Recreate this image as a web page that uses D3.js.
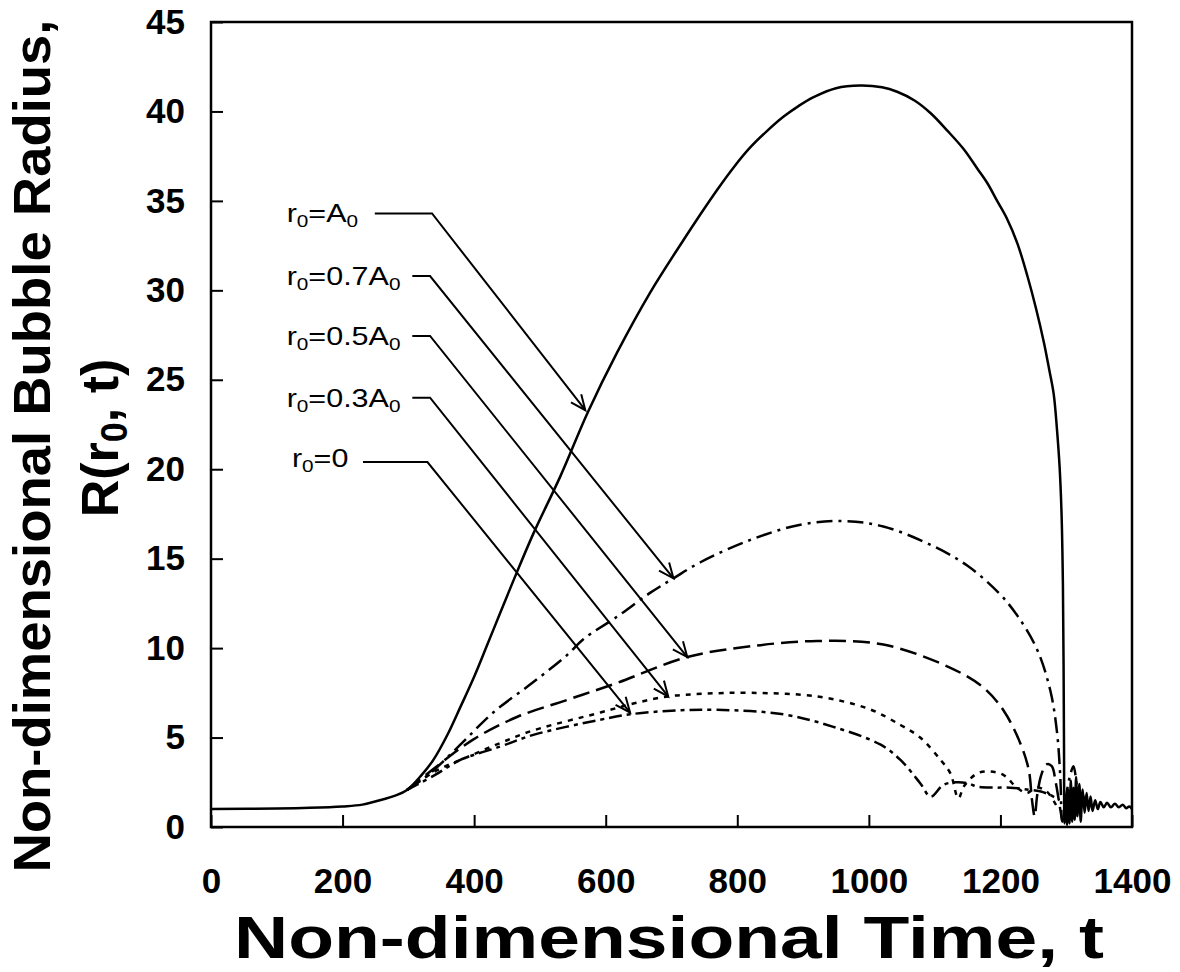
<!DOCTYPE html>
<html>
<head>
<meta charset="utf-8">
<script src="https://cdn.jsdelivr.net/npm/d3@7"></script>
<style>
  body { margin: 0; background: #fff; }
  text { fill: #000; }
</style>
</head>
<body>
<svg id="chart"></svg>
<script>
// ---- data: [t, R] ----
const curveA0 = [
  [0, 1.0], [100, 1.03], [150, 1.07], [200, 1.15], [230, 1.25], [262, 1.55], [280, 1.75],
  [298, 2.07], [320, 2.9], [338, 3.75], [360, 5.2], [379, 6.7], [400, 8.4], [419, 10.1],
  [440, 12.0], [460, 13.8], [490, 16.4], [531, 19.6], [573, 23.2], [617, 26.5], [668, 29.9],
  [718, 32.8], [743, 34.2], [769, 35.6], [795, 36.9], [820, 38.0], [845, 38.9], [870, 39.7],
  [893, 40.3], [916, 40.8], [950, 41.3], [987, 41.45], [1020, 41.35], [1043, 41.1],
  [1070, 40.6], [1094, 39.9], [1120, 38.9], [1144, 37.9], [1165, 36.8], [1180, 36.0],
  [1195, 35.0], [1210, 34.0], [1226, 32.6], [1241, 30.8], [1254, 29.0], [1266, 27.1],
  [1274, 25.6], [1281, 24.2], [1286, 22.2], [1290, 20.1], [1293, 17.4], [1295, 13.5],
  [1296, 9.0], [1296.7, 4.0], [1297.3, 0.2],
  [1299, 1.6], [1301, 0.1], [1303, 2.1], [1305, 0.2], [1307, 2.6], [1309, 0.3],
  [1311, 2.2], [1313, 0.4], [1315, 2.8], [1317, 0.6], [1320, 2.4], [1322, 0.3], [1325, 2.1],
  [1328, 0.8], [1331, 1.9], [1334, 0.9], [1337, 1.7], [1340, 0.9], [1344, 1.5], [1348, 1.0],
  [1352, 1.4], [1357, 1.1], [1362, 1.35], [1368, 1.1], [1374, 1.3], [1380, 1.1], [1386, 1.25],
  [1391, 1.05], [1396, 1.15], [1400, 1.0]
];
const curve07 = [
  [298, 2.07], [330, 2.9], [379, 4.6], [429, 6.4], [490, 8.1], [541, 9.6], [566, 10.5],
  [617, 11.75], [668, 13.1], [703, 13.9], [744, 14.8], [820, 16.05], [896, 16.9], [961, 17.1],
  [1022, 16.8], [1098, 15.7], [1150, 14.6], [1197, 13.1], [1226, 11.8], [1256, 9.9],
  [1276, 7.6], [1286, 5.3], [1291, 2.8], [1294, 0.3],
  [1300, 1.8], [1306, 2.9], [1311, 3.4], [1316, 2.3], [1320, 1.0], [1325, 1.8], [1330, 1.2]
];
const curve05 = [
  [298, 2.07], [340, 3.3], [399, 4.9], [465, 6.15], [541, 7.1], [617, 8.05],
  [724, 9.5], [820, 10.1], [921, 10.4], [1022, 10.2], [1124, 8.9], [1174, 7.8],
  [1205, 6.5], [1230, 4.7], [1243, 3.2], [1248, 1.5], [1252, 0.6], [1256, 1.8],
  [1262, 2.9], [1270, 3.5], [1278, 3.4], [1284, 2.5], [1290, 1.2], [1294, 0.3]
];
const curve03 = [
  [298, 2.07], [340, 3.1], [389, 3.9], [440, 4.7], [490, 5.4], [592, 6.4],
  [642, 6.9], [695, 7.3], [750, 7.45], [820, 7.5], [921, 7.3], [1000, 6.6], [1048, 5.7],
  [1078, 5.0], [1109, 3.75], [1124, 3.0], [1136, 1.6], [1145, 2.3], [1165, 3.0], [1185, 3.1],
  [1205, 2.9], [1225, 2.2], [1240, 1.9], [1255, 2.2], [1270, 2.0], [1285, 1.2]
];
const curve00 = [
  [298, 2.07], [340, 2.9], [379, 3.75], [440, 4.5], [490, 5.15], [592, 6.0], [637, 6.3],
  [700, 6.5], [769, 6.55], [870, 6.3], [946, 5.6], [1018, 4.6], [1048, 3.75], [1078, 2.45],
  [1094, 1.7], [1113, 2.35], [1132, 2.5], [1150, 2.45], [1165, 2.25], [1190, 2.2],
  [1215, 2.2], [1240, 2.1], [1260, 2.0], [1275, 1.8], [1290, 1.5]
];

const xTicks = [0, 200, 400, 600, 800, 1000, 1200, 1400];
const yTicks = [0, 5, 10, 15, 20, 25, 30, 35, 40, 45];

// annotation labels: [coefficient text, label t, label R, line start t, elbow t, line R, tip t, tip R]
const labels = [
  ['A', 115, 33.8, 249, 336, 34.3, 569, 23.3],
  ['0.7A', 115, 30.3, 306, 333, 30.8, 703, 13.9],
  ['0.5A', 115, 26.95, 306, 333, 27.45, 724, 9.5],
  ['0.3A', 115, 23.5, 306, 333, 24.0, 695, 7.3],
  ['0', 123, 20.1, 231, 329, 20.4, 637, 6.4]
];

// ---- layout ----
const width = 1180, height = 972;
const x = d3.scaleLinear().domain([0, 1400]).range([211, 1132]);
const y = d3.scaleLinear().domain([0, 45]).range([827, 22]);

const svg = d3.select('#chart')
  .attr('width', width)
  .attr('height', height)
  .style('font-family', '"Liberation Sans", Arial, Helvetica, sans-serif');

svg.append('defs').append('clipPath').attr('id', 'plot')
  .append('rect')
  .attr('x', x(0)).attr('y', y(45))
  .attr('width', x(1400) - x(0)).attr('height', y(0) - y(45));

svg.select('defs').append('marker')
  .attr('id', 'arrow')
  .attr('markerUnits', 'userSpaceOnUse')
  .attr('markerWidth', 30).attr('markerHeight', 30)
  .attr('viewBox', '-20 -15 30 30')
  .attr('refX', 0).attr('refY', 0)
  .attr('orient', 'auto')
  .append('path')
  .attr('d', 'M-15,-6.5 L0,0 L-15,6.5')
  .attr('fill', 'none')
  .attr('stroke', '#000')
  .attr('stroke-width', 2);

// curves
const line = d3.line()
  .x(d => x(d[0]))
  .y(d => y(d[1]))
  .curve(d3.curveCatmullRom.alpha(0.5));

const series = [
  { data: curve00, dash: '13,5,4,5' },
  { data: curve03, dash: '5,6' },
  { data: curve05, dash: '17,7' },
  { data: curve07, dash: '16,6,3,6' },
  { data: curveA0, dash: null }
];

svg.append('g').attr('clip-path', 'url(#plot)')
  .selectAll('path')
  .data(series)
  .enter()
  .append('path')
  .attr('d', d => line(d.data))
  .attr('fill', 'none')
  .attr('stroke', '#000')
  .attr('stroke-width', 2.5)
  .attr('stroke-dasharray', d => d.dash);

// axes (ticks point inward)
const xAxis = svg.append('g')
  .attr('transform', `translate(0,${y(0)})`)
  .call(d3.axisBottom(x).tickValues(xTicks).tickFormat(d3.format('d'))
    .tickSizeInner(-12).tickSizeOuter(0).tickPadding(41));
const yAxis = svg.append('g')
  .attr('transform', `translate(${x(0)},0)`)
  .call(d3.axisLeft(y).tickValues(yTicks).tickFormat(d3.format('d'))
    .tickSizeInner(-12).tickSizeOuter(0).tickPadding(26));

[xAxis, yAxis].forEach(g => {
  g.select('.domain').remove();
  g.selectAll('line').attr('stroke', '#000').attr('stroke-width', 2);
  g.selectAll('text')
    .style('font-family', '"Liberation Sans", Arial, sans-serif')
    .style('font-size', '35px')
    .style('font-weight', 'bold')
    .attr('fill', '#000');
});

// frame
svg.append('rect')
  .attr('x', x(0)).attr('y', y(45))
  .attr('width', x(1400) - x(0)).attr('height', y(0) - y(45))
  .attr('fill', 'none')
  .attr('stroke', '#000')
  .attr('stroke-width', 2.5);

// annotations
const ann = svg.append('g');
labels.forEach(d => {
  const t = ann.append('text')
    .attr('x', x(d[1]))
    .attr('y', y(d[2]))
    .style('font-size', '25px');
  t.append('tspan').text('r');
  t.append('tspan').attr('dy', 5).style('font-size', '17px').text('0');
  t.append('tspan').attr('dy', -5).text('=' + d[0].replace('A', ''));
  if (d[0].includes('A')) {
    t.append('tspan').text('A');
    t.append('tspan').attr('dy', 5).style('font-size', '17px').text('0');
  }
  // widen to match the stretched figure lettering
  const w = t.node().getComputedTextLength();
  t.attr('textLength', w * 1.22).attr('lengthAdjust', 'spacingAndGlyphs');

  ann.append('polyline')
    .attr('points', [
      [x(d[3]), y(d[5])],
      [x(d[4]), y(d[5])],
      [x(d[6]), y(d[7])]
    ].map(p => p.join(',')).join(' '))
    .attr('fill', 'none')
    .attr('stroke', '#000')
    .attr('stroke-width', 2)
    .attr('marker-end', 'url(#arrow)');
});

// axis titles
svg.append('text')
  .attr('x', 669)
  .attr('y', 958)
  .attr('text-anchor', 'middle')
  .attr('textLength', 870)
  .attr('lengthAdjust', 'spacingAndGlyphs')
  .style('font-size', '59px')
  .style('font-weight', 'bold')
  .text('Non-dimensional Time, t');

svg.append('text')
  .attr('transform', 'translate(50,446) rotate(-90)')
  .attr('text-anchor', 'middle')
  .attr('textLength', 853)
  .attr('lengthAdjust', 'spacingAndGlyphs')
  .style('font-size', '52px')
  .style('font-weight', 'bold')
  .text('Non-dimensional Bubble Radius,');

const t2 = svg.append('text')
  .attr('transform', 'translate(118,438) rotate(-90)')
  .attr('text-anchor', 'middle')
  .style('font-size', '52px')
  .style('font-weight', 'bold');
t2.append('tspan').text('R(r');
t2.append('tspan').attr('dy', 9).style('font-size', '36px').text('0');
t2.append('tspan').attr('dy', -9).text(', t)');
</script>
</body>
</html>
